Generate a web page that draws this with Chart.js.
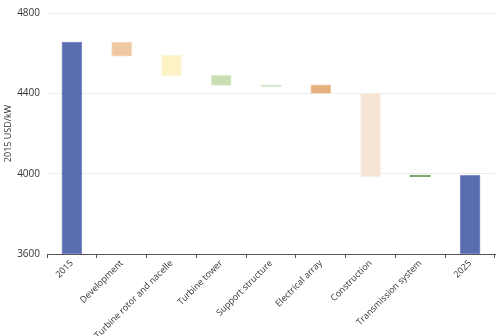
<!DOCTYPE html>
<html>
<head>
<meta charset="utf-8">
<script src="https://cdn.jsdelivr.net/npm/chart.js@4"></script>
<style>
  html, body { margin: 0; padding: 0; background: #fff; }
  #wrap { width: 498px; height: 336px; }
</style>
</head>
<body>
<div id="wrap"><canvas id="waterfall"></canvas></div>
<script>
const categories = ['2015', 'Development', 'Turbine rotor and nacelle', 'Turbine tower',
  'Support structure', 'Electrical array', 'Construction', 'Transmission system', '2025'];
const barLow  = [3600, 4585, 4487, 4440, 4435, 4400, 3985, 3985, 3600];
const barHigh = [4655, 4655, 4590, 4490, 4440, 4442, 4400, 3993, 3992];
const fills   = ['#5a6db0', '#efc8a3', '#fcf2c6', '#c8deb2', '#b9d9a3', '#e4b07e', '#f6e4d4', '#4f8a36', '#5a6db0'];
const edges   = ['#8494c8', '#f6dcc4', '#fdf8dc', '#dcebcd', '#cde6bc', '#efcaa6', '#f9eee4', '#6a9d52', '#8494c8'];
const yTicks  = [3600, 4000, 4400, 4800];

document.addEventListener("DOMContentLoaded", () => {
    const ctx = document.getElementById('waterfall').getContext('2d');
    new Chart(ctx, {
        type: 'bar',
        data: {
            labels: categories,
            datasets: [{
                data: categories.map((c, i) => [barLow[i], barHigh[i]]),
                backgroundColor: fills,
                borderColor: edges,
                borderWidth: 1,
                borderSkipped: false,
                barThickness: 20
            }]
        },
        options: {
            responsive: true,
            maintainAspectRatio: false,
            animation: false,
            layout: { padding: { top: 7, right: 3, left: 0, bottom: 0 } },
            plugins: {
                legend: { display: false },
                tooltip: { enabled: false }
            },
            scales: {
                x: {
                    grid: {
                        display: true,
                        drawOnChartArea: false,
                        drawTicks: true,
                        tickLength: 4,
                        color: '#555'
                    },
                    border: { display: true, color: '#555', width: 1 },
                    ticks: {
                        maxRotation: 45,
                        minRotation: 45,
                        autoSkip: false,
                        padding: 0,
                        color: '#333',
                        font: { family: 'Open Sans', size: 9 }
                    },
                    afterFit: (axis) => { axis.height = 82; }
                },
                y: {
                    min: 3600,
                    max: 4800,
                    afterBuildTicks: (axis) => { axis.ticks = yTicks.map(v => ({ value: v })); },
                    grid: { color: '#ececec', drawTicks: false },
                    border: { display: false },
                    ticks: {
                        padding: 7,
                        color: '#333',
                        font: { family: 'Open Sans', size: 10 },
                        callback: (v) => String(v)
                    },
                    title: {
                        display: true,
                        text: '2015 USD/kW',
                        color: '#333',
                        padding: { top: 3, bottom: 0 },
                        font: { family: 'Open Sans', size: 9 }
                    },
                    afterFit: (axis) => { axis.width = 47; }
                }
            }
        }
    });
});
</script>
</body>
</html>
